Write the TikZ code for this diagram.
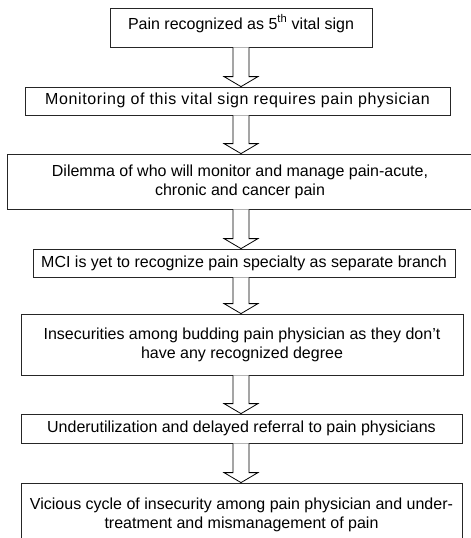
\documentclass[tikz,border=0pt]{standalone}
\usepackage{fontspec}
\setmainfont{Liberation Sans}
\usetikzlibrary{calc}
\tikzset{
  stepbox/.style={draw=black!85, line width=0.8pt, rectangle, inner sep=0pt, align=center,
    font=\fontsize{16}{19}\selectfont},
  fatarrow/.style={draw=black, line width=0.8pt, fill=white, line join=miter},
}
\newcommand\fatarr[2]{%
  \draw[fatarrow] let \p1=(#1.south -| ax), \p2=(#2.north -| ax) in
    (\x1-8pt,\y1) -- (\x1-8pt,\y2+10pt) -- (\x1-17pt,\y2+10pt) -- (\x2,\y2)
    -- (\x1+17pt,\y2+10pt) -- (\x1+8pt,\y2+10pt) -- (\x1+8pt,\y1);}
\begin{document}
\begin{tikzpicture}[x=1pt,y=-1pt]
\useasboundingbox (0,0) rectangle (471,538);
\coordinate (ax) at (241,0);
\node[stepbox, minimum width=262pt, minimum height=39pt, text height=12pt, text depth=9pt] (b1) at (241,27.5)
  {Pain recognized as 5\textsuperscript{th} vital sign};
\node[stepbox, minimum width=425pt, minimum height=28pt, text height=10pt, text depth=4pt] (b2) at (237.5,101)
  {\addfontfeatures{LetterSpace=3.9}Monitoring of this vital sign requires pain physician};
\node[stepbox, minimum width=466pt, minimum height=55pt] (b3) at (240,181.5)
  {Dilemma of who will monitor and manage pain-acute,\\chronic and cancer pain};
\node[stepbox, minimum width=422pt, minimum height=28pt] (b4) at (244,263)
  {MCI is yet to recognize pain specialty as separate branch};
\node[stepbox, minimum width=442pt, minimum height=61pt] (b5) at (242,344.5)
  {Insecurities among budding pain physician as they don’t\\have any recognized degree};
\node[stepbox, minimum width=441pt, minimum height=29pt] (b6) at (241.5,428.5)
  {Underutilization and delayed referral to pain physicians};
\node[stepbox, minimum width=441pt, minimum height=64pt] (b7) at (241.5,515)
  {Vicious cycle of insecurity among pain physician and under-\\treatment and mismanagement of pain};
\fatarr{b1}{b2}
\fatarr{b2}{b3}
\fatarr{b3}{b4}
\fatarr{b4}{b5}
\fatarr{b5}{b6}
\fatarr{b6}{b7}
\end{tikzpicture}
\end{document}
